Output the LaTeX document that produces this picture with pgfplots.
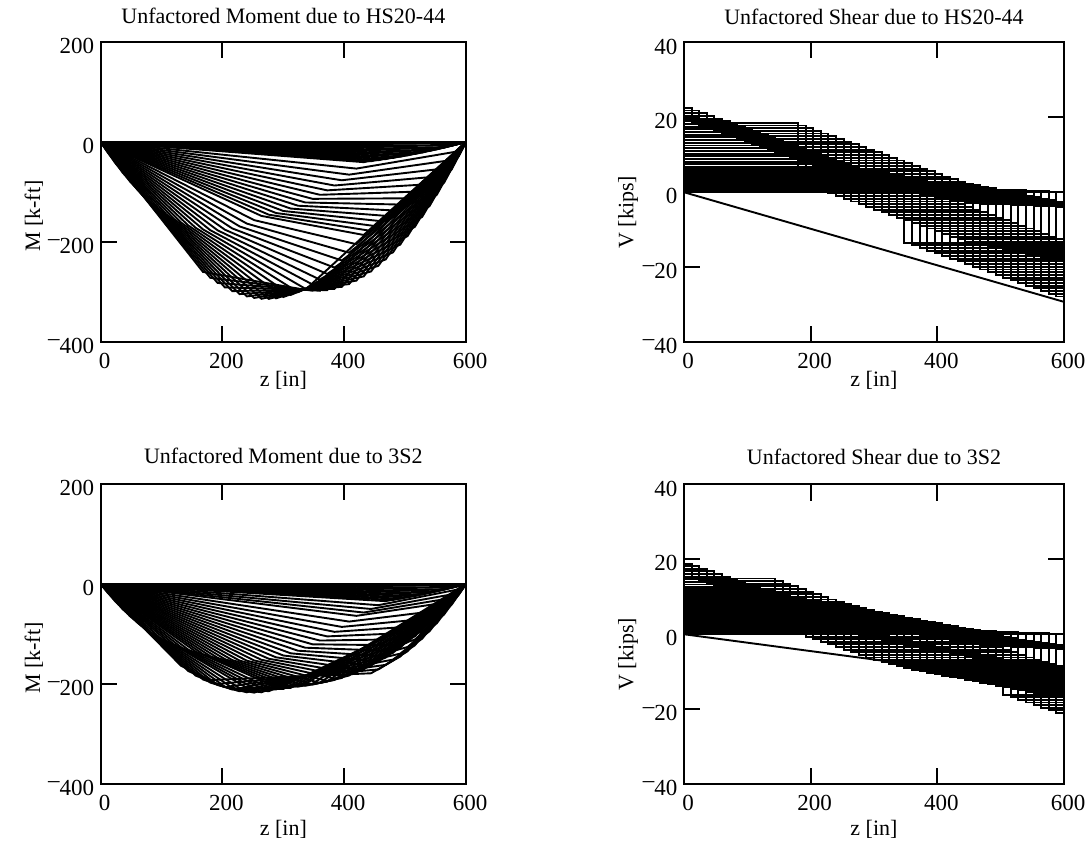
\documentclass[border=0pt]{standalone}
\usepackage{fontspec}
\setmainfont{Liberation Serif}
\usepackage{pgfplots}
\pgfplotsset{compat=1.18}

% raised minus as used on the tick labels
\newcommand{\mneg}{\raisebox{0.33em}{\textendash}}

\pgfplotsset{
  panel/.style={
    scale only axis, anchor=south west,
    xmin=0, xmax=600,
    xtick={0,200,400,600}, xticklabels={0,200,400,600},
    tick align=inside, tick pos=both, major tick length=16pt,
    every tick/.style={black, line width=2pt},
    axis line style={line width=2pt},
    tick label style={font=\fontsize{23}{27}\selectfont},
    xticklabel style={yshift=-8pt, xshift=4pt},
    yticklabel style={xshift=-3pt, yshift=-4pt},
    label style={font=\fontsize{22}{26}\selectfont},
    title style={font=\fontsize{22}{26}\selectfont, at={(0.5,1)}, anchor=center, yshift=20pt},
    xlabel style={at={(axis description cs:0.5,0)}, anchor=center, yshift=-38pt},
  },
  lower/.style={xlabel style={yshift=-7pt}, title style={yshift=2pt}},
  moment/.style={panel, width=365.3pt, height=300pt,
    ymin=-400, ymax=200, ytick={-400,-200,0,200},
    yticklabels={\mneg400,\mneg200,0,200},
    ylabel style={at={(axis description cs:-0.183,0.42)}, anchor=center},
    xlabel={z [in]}, ylabel={M [k-ft]}},
  shear/.style={panel, width=380pt, height=299.5pt,
    ymin=-40, ymax=40, ytick={-40,-20,0,20,40},
    yticklabels={\mneg40,\mneg20,0,20,40},
    ylabel style={at={(axis description cs:-0.147,0.433)}, anchor=center},
    xlabel={z [in]}, ylabel={V [kips]}},
  tr/.style={black, line width=1.9pt, line join=miter},
  st/.style={black, line width=1.9pt, line join=miter, const plot},
}

\begin{document}
\begin{tikzpicture}[x=1pt,y=1pt]
\useasboundingbox (0,0) rectangle (1089,857);

% ---------------- HS20-44 moment, one trace per truck position (step 12 in)
\begin{axis}[moment, at={(100.7pt,515pt)}, title={Unfactored Moment due to HS20-44}]
\addplot[tr] coordinates {(0,0)(600,0)};
\addplot[tr] coordinates {(0,0)(168,-259.84)(336,-295.68)(600,0)};
\addplot[tr] coordinates {(0,0)(12,-21.84)(180,-271.6)(348,-297.36)(600,0)};
\addplot[tr] coordinates {(0,0)(24,-42.24)(192,-281.92)(360,-297.6)(600,0)};
\addplot[tr] coordinates {(0,0)(36,-61.2)(204,-290.8)(372,-296.4)(600,0)};
\addplot[tr] coordinates {(0,0)(48,-78.72)(216,-298.24)(384,-293.76)(600,0)};
\addplot[tr] coordinates {(0,0)(60,-94.8)(228,-304.24)(396,-289.68)(600,0)};
\addplot[tr] coordinates {(0,0)(72,-109.44)(240,-308.8)(408,-284.16)(600,0)};
\addplot[tr] coordinates {(0,0)(84,-122.64)(252,-311.92)(420,-277.2)(600,0)};
\addplot[tr] coordinates {(0,0)(96,-134.4)(264,-313.6)(432,-268.8)(600,0)};
\addplot[tr] coordinates {(0,0)(108,-144.72)(276,-313.84)(444,-258.96)(600,0)};
\addplot[tr] coordinates {(0,0)(120,-153.6)(288,-312.64)(456,-247.68)(600,0)};
\addplot[tr] coordinates {(0,0)(132,-161.04)(300,-310)(468,-234.96)(600,0)};
\addplot[tr] coordinates {(0,0)(144,-167.04)(312,-305.92)(480,-220.8)(600,0)};
\addplot[tr] coordinates {(0,0)(156,-171.6)(324,-300.4)(492,-205.2)(600,0)};
\addplot[tr] coordinates {(0,0)(168,-174.72)(336,-293.44)(504,-188.16)(600,0)};
\addplot[tr] coordinates {(0,0)(180,-176.4)(348,-285.04)(516,-169.68)(600,0)};
\addplot[tr] coordinates {(0,0)(192,-176.64)(360,-275.2)(528,-149.76)(600,0)};
\addplot[tr] coordinates {(0,0)(204,-175.44)(372,-263.92)(540,-128.4)(600,0)};
\addplot[tr] coordinates {(0,0)(216,-172.8)(384,-251.2)(552,-105.6)(600,0)};
\addplot[tr] coordinates {(0,0)(228,-168.72)(396,-237.04)(564,-81.36)(600,0)};
\addplot[tr] coordinates {(0,0)(240,-163.2)(408,-221.44)(576,-55.68)(600,0)};
\addplot[tr] coordinates {(0,0)(252,-156.24)(420,-204.4)(588,-28.56)(600,0)};
\addplot[tr] coordinates {(0,0)(264,-147.84)(432,-185.92)(600,0)};
\addplot[tr] coordinates {(0,0)(276,-145.36)(444,-177.84)(600,0)};
\addplot[tr] coordinates {(0,0)(288,-142.08)(456,-168.96)(600,0)};
\addplot[tr] coordinates {(0,0)(300,-138)(468,-159.28)(600,0)};
\addplot[tr] coordinates {(0,0)(312,-133.12)(480,-148.8)(600,0)};
\addplot[tr] coordinates {(0,0)(324,-127.44)(492,-137.52)(600,0)};
\addplot[tr] coordinates {(0,0)(336,-120.96)(504,-125.44)(600,0)};
\addplot[tr] coordinates {(0,0)(348,-113.68)(516,-112.56)(600,0)};
\addplot[tr] coordinates {(0,0)(360,-105.6)(528,-98.88)(600,0)};
\addplot[tr] coordinates {(0,0)(372,-96.72)(540,-84.4)(600,0)};
\addplot[tr] coordinates {(0,0)(384,-87.04)(552,-69.12)(600,0)};
\addplot[tr] coordinates {(0,0)(396,-76.56)(564,-53.04)(600,0)};
\addplot[tr] coordinates {(0,0)(408,-65.28)(576,-36.16)(600,0)};
\addplot[tr] coordinates {(0,0)(420,-53.2)(588,-18.48)(600,0)};
\addplot[tr] coordinates {(0,0)(432,-40.32)(600,0)};
\addplot[tr] coordinates {(0,0)(444,-38.48)(600,0)};
\addplot[tr] coordinates {(0,0)(456,-36.48)(600,0)};
\addplot[tr] coordinates {(0,0)(468,-34.32)(600,0)};
\addplot[tr] coordinates {(0,0)(480,-32)(600,0)};
\addplot[tr] coordinates {(0,0)(492,-29.52)(600,0)};
\addplot[tr] coordinates {(0,0)(504,-26.88)(600,0)};
\addplot[tr] coordinates {(0,0)(516,-24.08)(600,0)};
\addplot[tr] coordinates {(0,0)(528,-21.12)(600,0)};
\addplot[tr] coordinates {(0,0)(540,-18)(600,0)};
\addplot[tr] coordinates {(0,0)(552,-14.72)(600,0)};
\addplot[tr] coordinates {(0,0)(564,-11.28)(600,0)};
\addplot[tr] coordinates {(0,0)(576,-7.68)(600,0)};
\addplot[tr] coordinates {(0,0)(588,-3.92)(600,0)};
\end{axis}

% ---------------- HS20-44 shear, stepped traces
\begin{axis}[shear, at={(684pt,515pt)}, title={Unfactored Shear due to HS20-44}]
\addplot[tr] coordinates {(0,0)(600,-29.28)};
\addplot[st] coordinates {(0,22.56)(12,18.56)(180,2.56)(348,-13.44)(600,-13.44)};
\addplot[st] coordinates {(0,21.84)(24,17.84)(192,1.84)(360,-14.16)(600,-14.16)};
\addplot[st] coordinates {(0,21.12)(36,17.12)(204,1.12)(372,-14.88)(600,-14.88)};
\addplot[st] coordinates {(0,20.4)(48,16.4)(216,0.4)(384,-15.6)(600,-15.6)};
\addplot[st] coordinates {(0,19.68)(60,15.68)(228,-0.32)(396,-16.32)(600,-16.32)};
\addplot[st] coordinates {(0,18.96)(72,14.96)(240,-1.04)(408,-17.04)(600,-17.04)};
\addplot[st] coordinates {(0,18.24)(84,14.24)(252,-1.76)(420,-17.76)(600,-17.76)};
\addplot[st] coordinates {(0,17.52)(96,13.52)(264,-2.48)(432,-18.48)(600,-18.48)};
\addplot[st] coordinates {(0,16.8)(108,12.8)(276,-3.2)(444,-19.2)(600,-19.2)};
\addplot[st] coordinates {(0,16.08)(120,12.08)(288,-3.92)(456,-19.92)(600,-19.92)};
\addplot[st] coordinates {(0,15.36)(132,11.36)(300,-4.64)(468,-20.64)(600,-20.64)};
\addplot[st] coordinates {(0,14.64)(144,10.64)(312,-5.36)(480,-21.36)(600,-21.36)};
\addplot[st] coordinates {(0,13.92)(156,9.92)(324,-6.08)(492,-22.08)(600,-22.08)};
\addplot[st] coordinates {(0,13.2)(168,9.2)(336,-6.8)(504,-22.8)(600,-22.8)};
\addplot[st] coordinates {(0,12.48)(180,8.48)(348,-7.52)(516,-23.52)(600,-23.52)};
\addplot[st] coordinates {(0,11.76)(192,7.76)(360,-8.24)(528,-24.24)(600,-24.24)};
\addplot[st] coordinates {(0,11.04)(204,7.04)(372,-8.96)(540,-24.96)(600,-24.96)};
\addplot[st] coordinates {(0,10.32)(216,6.32)(384,-9.68)(552,-25.68)(600,-25.68)};
\addplot[st] coordinates {(0,9.6)(228,5.6)(396,-10.4)(564,-26.4)(600,-26.4)};
\addplot[st] coordinates {(0,8.88)(240,4.88)(408,-11.12)(576,-27.12)(600,-27.12)};
\addplot[st] coordinates {(0,8.16)(252,4.16)(420,-11.84)(588,-27.84)(600,-27.84)};
\addplot[st] coordinates {(0,7.44)(264,3.44)(432,-12.56)(600,-28.56)};
\addplot[st] coordinates {(0,6.72)(276,2.72)(444,-13.28)(600,-13.28)};
\addplot[st] coordinates {(0,6.32)(288,2.32)(456,-13.68)(600,-13.68)};
\addplot[st] coordinates {(0,5.92)(300,1.92)(468,-14.08)(600,-14.08)};
\addplot[st] coordinates {(0,5.52)(312,1.52)(480,-14.48)(600,-14.48)};
\addplot[st] coordinates {(0,5.12)(324,1.12)(492,-14.88)(600,-14.88)};
\addplot[st] coordinates {(0,4.72)(336,0.72)(504,-15.28)(600,-15.28)};
\addplot[st] coordinates {(0,4.32)(348,0.32)(516,-15.68)(600,-15.68)};
\addplot[st] coordinates {(0,3.92)(360,-0.08)(528,-16.08)(600,-16.08)};
\addplot[st] coordinates {(0,3.52)(372,-0.48)(540,-16.48)(600,-16.48)};
\addplot[st] coordinates {(0,3.12)(384,-0.88)(552,-16.88)(600,-16.88)};
\addplot[st] coordinates {(0,2.72)(396,-1.28)(564,-17.28)(600,-17.28)};
\addplot[st] coordinates {(0,2.32)(408,-1.68)(576,-17.68)(600,-17.68)};
\addplot[st] coordinates {(0,1.92)(420,-2.08)(588,-18.08)(600,-18.08)};
\addplot[st] coordinates {(0,1.52)(432,-2.48)(600,-18.48)};
\addplot[st] coordinates {(0,1.12)(444,-2.88)(600,-2.88)};
\addplot[st] coordinates {(0,1.04)(456,-2.96)(600,-2.96)};
\addplot[st] coordinates {(0,0.96)(468,-3.04)(600,-3.04)};
\addplot[st] coordinates {(0,0.88)(480,-3.12)(600,-3.12)};
\addplot[st] coordinates {(0,0.8)(492,-3.2)(600,-3.2)};
\addplot[st] coordinates {(0,0.72)(504,-3.28)(600,-3.28)};
\addplot[st] coordinates {(0,0.64)(516,-3.36)(600,-3.36)};
\addplot[st] coordinates {(0,0.56)(528,-3.44)(600,-3.44)};
\addplot[st] coordinates {(0,0.48)(540,-3.52)(600,-3.52)};
\addplot[st] coordinates {(0,0.4)(552,-3.6)(600,-3.6)};
\addplot[st] coordinates {(0,0.32)(564,-3.68)(600,-3.68)};
\addplot[st] coordinates {(0,0.24)(576,-3.76)(600,-3.76)};
\addplot[st] coordinates {(0,0.16)(588,-3.84)(600,-3.84)};
\addplot[st] coordinates {(0,0.08)(600,-3.92)};
\addplot[st] coordinates {(0,0)(600,0)};
\end{axis}

% ---------------- 3S2 moment
\begin{axis}[moment, lower, at={(100.7pt,73pt)}, title={Unfactored Moment due to 3S2}]
\addplot[tr] coordinates {(0,0)(600,0)};
\addplot[tr] coordinates {(0,0)(132,-163.68)(180,-192.2)(444,-178.56)(492,-145.08)(600,0)};
\addplot[tr] coordinates {(0,0)(12,-18.18)(144,-174.16)(192,-199.88)(456,-170.84)(504,-134.56)(600,0)};
\addplot[tr] coordinates {(0,0)(24,-34.96)(156,-183.24)(204,-206.16)(468,-161.72)(516,-122.64)(600,0)};
\addplot[tr] coordinates {(0,0)(36,-50.34)(168,-190.92)(216,-211.04)(480,-151.2)(528,-109.32)(600,0)};
\addplot[tr] coordinates {(0,0)(48,-64.32)(180,-197.2)(228,-214.52)(492,-139.28)(540,-94.6)(600,0)};
\addplot[tr] coordinates {(0,0)(60,-76.9)(192,-202.08)(240,-216.6)(504,-125.96)(552,-78.48)(600,0)};
\addplot[tr] coordinates {(0,0)(72,-88.08)(204,-205.56)(252,-217.28)(516,-111.24)(564,-60.96)(600,0)};
\addplot[tr] coordinates {(0,0)(84,-97.86)(216,-207.64)(264,-216.56)(528,-95.12)(576,-42.04)(600,0)};
\addplot[tr] coordinates {(0,0)(96,-106.24)(228,-208.32)(276,-214.44)(540,-77.6)(588,-21.72)(600,0)};
\addplot[tr] coordinates {(0,0)(108,-113.22)(240,-207.6)(288,-210.92)(552,-58.68)(600,0)};
\addplot[tr] coordinates {(0,0)(120,-120.35)(252,-208.74)(300,-209.88)(564,-45.65)(600,0)};
\addplot[tr] coordinates {(0,0)(132,-126.39)(264,-208.78)(312,-207.74)(576,-31.52)(600,0)};
\addplot[tr] coordinates {(0,0)(144,-131.34)(276,-207.74)(324,-204.52)(588,-16.31)(600,0)};
\addplot[tr] coordinates {(0,0)(156,-135.2)(288,-205.6)(336,-200.2)(600,0)};
\addplot[tr] coordinates {(0,0)(168,-140.14)(300,-206.25)(348,-199.29)(600,0)};
\addplot[tr] coordinates {(0,0)(180,-144.3)(312,-206.12)(360,-197.6)(600,0)};
\addplot[tr] coordinates {(0,0)(192,-147.68)(324,-205.21)(372,-195.13)(600,0)};
\addplot[tr] coordinates {(0,0)(204,-150.28)(336,-203.52)(384,-191.88)(600,0)};
\addplot[tr] coordinates {(0,0)(216,-152.1)(348,-201.05)(396,-187.85)(600,0)};
\addplot[tr] coordinates {(0,0)(228,-153.14)(360,-197.8)(408,-183.04)(600,0)};
\addplot[tr] coordinates {(0,0)(240,-153.4)(372,-193.77)(420,-177.45)(600,0)};
\addplot[tr] coordinates {(0,0)(252,-152.88)(384,-188.96)(432,-171.08)(600,0)};
\addplot[tr] coordinates {(0,0)(264,-151.58)(396,-183.37)(444,-163.93)(600,0)};
\addplot[tr] coordinates {(0,0)(276,-149.5)(408,-177)(456,-156)(600,0)};
\addplot[tr] coordinates {(0,0)(288,-146.64)(420,-169.85)(468,-147.29)(600,0)};
\addplot[tr] coordinates {(0,0)(300,-143)(432,-161.92)(480,-137.8)(600,0)};
\addplot[tr] coordinates {(0,0)(312,-138.58)(444,-153.21)(492,-127.53)(600,0)};
\addplot[tr] coordinates {(0,0)(324,-133.38)(456,-143.72)(504,-116.48)(600,0)};
\addplot[tr] coordinates {(0,0)(336,-127.4)(468,-133.45)(516,-104.65)(600,0)};
\addplot[tr] coordinates {(0,0)(348,-120.64)(480,-122.4)(528,-92.04)(600,0)};
\addplot[tr] coordinates {(0,0)(360,-113.1)(492,-110.57)(540,-78.65)(600,0)};
\addplot[tr] coordinates {(0,0)(372,-104.78)(504,-97.96)(552,-64.48)(600,0)};
\addplot[tr] coordinates {(0,0)(384,-95.68)(516,-84.57)(564,-49.53)(600,0)};
\addplot[tr] coordinates {(0,0)(396,-85.8)(528,-70.4)(576,-33.8)(600,0)};
\addplot[tr] coordinates {(0,0)(408,-75.14)(540,-55.45)(588,-17.29)(600,0)};
\addplot[tr] coordinates {(0,0)(420,-63.7)(552,-39.72)(600,0)};
\addplot[tr] coordinates {(0,0)(432,-57.06)(564,-30.5)(600,0)};
\addplot[tr] coordinates {(0,0)(444,-49.95)(576,-20.8)(600,0)};
\addplot[tr] coordinates {(0,0)(456,-42.37)(588,-10.64)(600,0)};
\addplot[tr] coordinates {(0,0)(468,-34.32)(600,0)};
\addplot[tr] coordinates {(0,0)(480,-32)(600,0)};
\addplot[tr] coordinates {(0,0)(492,-29.52)(600,0)};
\addplot[tr] coordinates {(0,0)(504,-26.88)(600,0)};
\addplot[tr] coordinates {(0,0)(516,-24.08)(600,0)};
\addplot[tr] coordinates {(0,0)(528,-21.12)(600,0)};
\addplot[tr] coordinates {(0,0)(540,-18)(600,0)};
\addplot[tr] coordinates {(0,0)(552,-14.72)(600,0)};
\addplot[tr] coordinates {(0,0)(564,-11.28)(600,0)};
\addplot[tr] coordinates {(0,0)(576,-7.68)(600,0)};
\addplot[tr] coordinates {(0,0)(588,-3.92)(600,0)};
\end{axis}

% ---------------- 3S2 shear
\begin{axis}[shear, lower, at={(684pt,73pt)}, title={Unfactored Shear due to 3S2}]
\addplot[tr] coordinates {(0,0)(600,-13.5)};
\addplot[st] coordinates {(0,18.88)(12,14.88)(144,7.13)(192,-0.62)(456,-8.37)(504,-16.12)(600,-16.12)};
\addplot[st] coordinates {(0,18.18)(24,14.18)(156,6.43)(204,-1.32)(468,-9.07)(516,-16.82)(600,-16.82)};
\addplot[st] coordinates {(0,17.48)(36,13.48)(168,5.73)(216,-2.02)(480,-9.77)(528,-17.52)(600,-17.52)};
\addplot[st] coordinates {(0,16.78)(48,12.78)(180,5.03)(228,-2.72)(492,-10.47)(540,-18.22)(600,-18.22)};
\addplot[st] coordinates {(0,16.08)(60,12.08)(192,4.33)(240,-3.42)(504,-11.17)(552,-18.92)(600,-18.92)};
\addplot[st] coordinates {(0,15.38)(72,11.38)(204,3.63)(252,-4.12)(516,-11.87)(564,-19.62)(600,-19.62)};
\addplot[st] coordinates {(0,14.68)(84,10.68)(216,2.93)(264,-4.82)(528,-12.57)(576,-20.32)(600,-20.32)};
\addplot[st] coordinates {(0,13.98)(96,9.98)(228,2.23)(276,-5.52)(540,-13.27)(588,-21.02)(600,-21.02)};
\addplot[st] coordinates {(0,13.28)(108,9.28)(240,1.53)(288,-6.22)(552,-13.97)(600,-21.72)};
\addplot[st] coordinates {(0,12.58)(120,8.58)(252,0.83)(300,-6.92)(564,-14.67)(600,-14.67)};
\addplot[st] coordinates {(0,12.035)(132,8.035)(264,0.285)(312,-7.465)(576,-15.215)(600,-15.215)};
\addplot[st] coordinates {(0,11.49)(144,7.49)(276,-0.26)(324,-8.01)(588,-15.76)(600,-15.76)};
\addplot[st] coordinates {(0,10.945)(156,6.945)(288,-0.805)(336,-8.555)(600,-16.305)};
\addplot[st] coordinates {(0,10.4)(168,6.4)(300,-1.35)(348,-9.1)(600,-9.1)};
\addplot[st] coordinates {(0,10.01)(180,6.01)(312,-1.74)(360,-9.49)(600,-9.49)};
\addplot[st] coordinates {(0,9.62)(192,5.62)(324,-2.13)(372,-9.88)(600,-9.88)};
\addplot[st] coordinates {(0,9.23)(204,5.23)(336,-2.52)(384,-10.27)(600,-10.27)};
\addplot[st] coordinates {(0,8.84)(216,4.84)(348,-2.91)(396,-10.66)(600,-10.66)};
\addplot[st] coordinates {(0,8.45)(228,4.45)(360,-3.3)(408,-11.05)(600,-11.05)};
\addplot[st] coordinates {(0,8.06)(240,4.06)(372,-3.69)(420,-11.44)(600,-11.44)};
\addplot[st] coordinates {(0,7.67)(252,3.67)(384,-4.08)(432,-11.83)(600,-11.83)};
\addplot[st] coordinates {(0,7.28)(264,3.28)(396,-4.47)(444,-12.22)(600,-12.22)};
\addplot[st] coordinates {(0,6.89)(276,2.89)(408,-4.86)(456,-12.61)(600,-12.61)};
\addplot[st] coordinates {(0,6.5)(288,2.5)(420,-5.25)(468,-13)(600,-13)};
\addplot[st] coordinates {(0,6.11)(300,2.11)(432,-5.64)(480,-13.39)(600,-13.39)};
\addplot[st] coordinates {(0,5.72)(312,1.72)(444,-6.03)(492,-13.78)(600,-13.78)};
\addplot[st] coordinates {(0,5.33)(324,1.33)(456,-6.42)(504,-14.17)(600,-14.17)};
\addplot[st] coordinates {(0,4.94)(336,0.94)(468,-6.81)(516,-14.56)(600,-14.56)};
\addplot[st] coordinates {(0,4.55)(348,0.55)(480,-7.2)(528,-14.95)(600,-14.95)};
\addplot[st] coordinates {(0,4.16)(360,0.16)(492,-7.59)(540,-15.34)(600,-15.34)};
\addplot[st] coordinates {(0,3.77)(372,-0.23)(504,-7.98)(552,-15.73)(600,-15.73)};
\addplot[st] coordinates {(0,3.38)(384,-0.62)(516,-8.37)(564,-16.12)(600,-16.12)};
\addplot[st] coordinates {(0,2.99)(396,-1.01)(528,-8.76)(576,-16.51)(600,-16.51)};
\addplot[st] coordinates {(0,2.6)(408,-1.4)(540,-9.15)(588,-16.9)(600,-16.9)};
\addplot[st] coordinates {(0,2.21)(420,-1.79)(552,-9.54)(600,-17.29)};
\addplot[st] coordinates {(0,1.82)(432,-2.18)(564,-9.93)(600,-9.93)};
\addplot[st] coordinates {(0,1.585)(444,-2.415)(576,-10.165)(600,-10.165)};
\addplot[st] coordinates {(0,1.35)(456,-2.65)(588,-10.4)(600,-10.4)};
\addplot[st] coordinates {(0,1.115)(468,-2.885)(600,-10.635)};
\addplot[st] coordinates {(0,0.88)(480,-3.12)(600,-3.12)};
\addplot[st] coordinates {(0,0.8)(492,-3.2)(600,-3.2)};
\addplot[st] coordinates {(0,0.72)(504,-3.28)(600,-3.28)};
\addplot[st] coordinates {(0,0.64)(516,-3.36)(600,-3.36)};
\addplot[st] coordinates {(0,0.56)(528,-3.44)(600,-3.44)};
\addplot[st] coordinates {(0,0.48)(540,-3.52)(600,-3.52)};
\addplot[st] coordinates {(0,0.4)(552,-3.6)(600,-3.6)};
\addplot[st] coordinates {(0,0.32)(564,-3.68)(600,-3.68)};
\addplot[st] coordinates {(0,0.24)(576,-3.76)(600,-3.76)};
\addplot[st] coordinates {(0,0.16)(588,-3.84)(600,-3.84)};
\addplot[st] coordinates {(0,0.08)(600,-3.92)};
\addplot[st] coordinates {(0,0)(600,0)};
\end{axis}
\end{tikzpicture}
\end{document}
